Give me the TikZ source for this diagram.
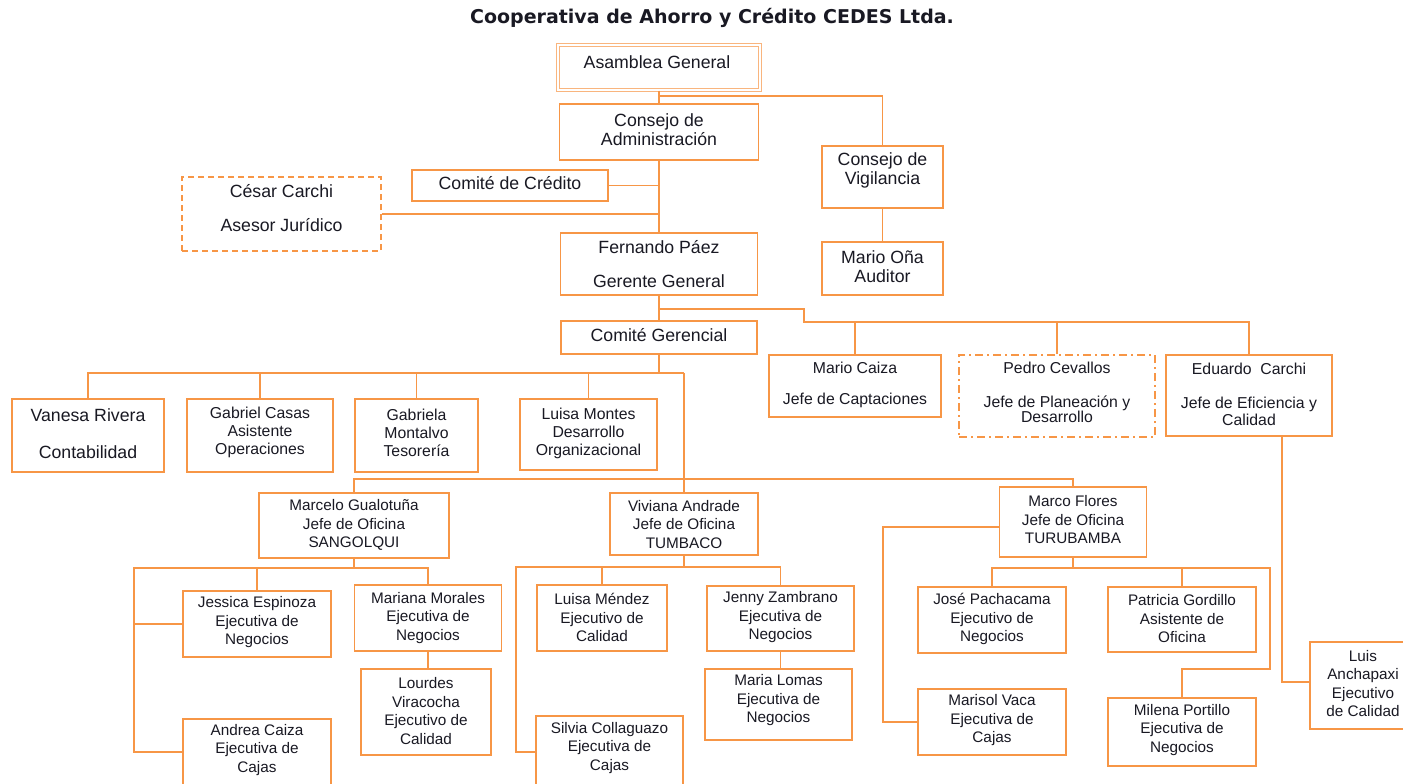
\documentclass[tikz,border=0pt]{standalone}
\usepackage{fontspec}
\setmainfont{Liberation Sans}
\newfontfamily\titlefont{DejaVu Sans}
\definecolor{org}{RGB}{247,150,70}
\definecolor{ink}{RGB}{25,25,35}
\begin{document}
\begin{tikzpicture}[x=1pt,y=-1pt,
  box/.style={draw=org, line width=1.7pt, fill=white, inner sep=0pt, rectangle},
  conn/.style={draw=org, line width=1.7pt},
  big/.style={text=ink, align=center, inner sep=0pt, font=\fontsize{17.7}{19}\selectfont},
  mid/.style={text=ink, align=center, inner sep=0pt, font=\fontsize{15.8}{18}\selectfont},
  sml/.style={text=ink, align=center, inner sep=0pt, font=\fontsize{15.3}{18.5}\selectfont}]
\useasboundingbox (0,0) rectangle (1403,784);
\clip (0,0) rectangle (1403,784);

% title
\node[text=ink, font=\titlefont\bfseries\fontsize{19}{21}\selectfont] (title) at (712,18) {Cooperativa de Ahorro y Crédito CEDES Ltda.};

% boxes
\node[box, draw=org!70, double=white, double distance=1.2pt, line width=1.3pt, minimum width=202, minimum height=45] (asam) at (659,67.5) {};
\node[box, minimum width=199, minimum height=56] (cadm) at (659,132) {};
\node[box, minimum width=121, minimum height=62] (cvig) at (882.5,177) {};
\node[box, minimum width=121, minimum height=53] (audit) at (882.5,268.5) {};
\node[box, minimum width=196, minimum height=31] (ccred) at (510,185.5) {};
\node[box, dashed, dash pattern=on 6pt off 4pt, minimum width=199, minimum height=74] (cesar) at (281.5,214) {};
\node[box, minimum width=197, minimum height=62] (gerente) at (659,264) {};
\node[box, minimum width=196, minimum height=33] (cger) at (659,337.5) {};
\node[box, minimum width=172, minimum height=62] (mcaiza) at (855,386) {};
\node[box, dash pattern=on 8pt off 4pt on 2pt off 4pt, minimum width=196, minimum height=82] (pedro) at (1057,396) {};
\node[box, minimum width=166, minimum height=81] (eduardo) at (1249,395.5) {};
\node[box, minimum width=152, minimum height=73] (vanesa) at (88,435.5) {};
\node[box, minimum width=146, minimum height=73] (gcasas) at (260,435.5) {};
\node[box, minimum width=123, minimum height=73] (gmont) at (416.5,435.5) {};
\node[box, minimum width=137, minimum height=71] (lmontes) at (588.5,434.5) {};
\node[box, minimum width=190, minimum height=65] (marcelo) at (354,525.5) {};
\node[box, minimum width=148, minimum height=62] (viviana) at (684,524) {};
\node[box, minimum width=147, minimum height=70] (marco) at (1073,522) {};
\node[box, minimum width=148, minimum height=66] (jessica) at (257,624) {};
\node[box, minimum width=147, minimum height=66] (mariana) at (428,618) {};
\node[box, minimum width=130, minimum height=86] (lourdes) at (426,712) {};
\node[box, minimum width=148, minimum height=81] (andrea) at (257,759.5) {};
\node[box, minimum width=130, minimum height=66] (lmendez) at (602,618) {};
\node[box, minimum width=147, minimum height=65] (jenny) at (780.5,618.5) {};
\node[box, minimum width=147, minimum height=71] (mlomas) at (778.5,704.5) {};
\node[box, minimum width=147, minimum height=84] (silvia) at (609.5,758) {};
\node[box, minimum width=148, minimum height=66] (jose) at (992,620) {};
\node[box, minimum width=148, minimum height=65] (patricia) at (1182,619.5) {};
\node[box, minimum width=148, minimum height=66] (marisol) at (992,722) {};
\node[box, minimum width=148, minimum height=68] (milena) at (1182,732) {};
\node[box, minimum width=105, minimum height=87] (luis) at (1362.5,685.5) {};

% junction coordinates
\coordinate (j1) at (659,96);
\coordinate (j2) at (659,309);
\coordinate (j3) at (804,322);
\coordinate (j4) at (659,373);
\coordinate (t1) at (684,373);
\coordinate (b1) at (684,479);
\coordinate (m1) at (354,568);
\coordinate (m2) at (134,568);
\coordinate (m3) at (134,752);
\coordinate (v1) at (684,567);
\coordinate (v2) at (516,567);
\coordinate (v3) at (516,752);
\coordinate (f1) at (883,527);
\coordinate (f2) at (1073,568);
\coordinate (f3) at (1270,568);
\coordinate (f4) at (1270,669);
\coordinate (e1) at (1282,682);

% connectors
\draw[conn] (asam.south) -- (cadm.north);
\draw[conn] (j1) -| (cvig.north);
\draw[conn] (cvig.south) -- (audit.north);
\draw[conn] (cadm.south) -- (gerente.north);
\draw[conn] (ccred.east) -- (ccred.east -| cadm.south);
\draw[conn] (cesar.east) -- (cesar.east -| cadm.south);
\draw[conn] (gerente.south) -- (cger.north);
\draw[conn] (j2) -| (j3) -| (eduardo.north);
\draw[conn] (mcaiza.north) -- (mcaiza.north |- j3);
\draw[conn] (pedro.north) -- (pedro.north |- j3);
\draw[conn] (cger.south) -- (j4);
\draw[conn] (vanesa.north) |- (t1);
\draw[conn] (gcasas.north) -- (gcasas.north |- t1);
\draw[conn] (gmont.north) -- (gmont.north |- t1);
\draw[conn] (lmontes.north) -- (lmontes.north |- t1);
\draw[conn] (t1) -- (viviana.north);
\draw[conn] (marcelo.north) |- (b1) -| (marco.north);
% Marcelo branch
\draw[conn] (marcelo.south) -- (m1);
\draw[conn] (mariana.north) |- (m2) -- (m3) -- (m3 -| andrea.west);
\draw[conn] (jessica.north) -- (jessica.north |- m2);
\draw[conn] (m2 |- jessica.west) -- (jessica.west);
\draw[conn] (mariana.south) -- (mariana.south |- lourdes.north);
% Viviana branch
\draw[conn] (viviana.south) -- (v1);
\draw[conn] (jenny.north) |- (v2) -- (v3) -- (v3 -| silvia.west);
\draw[conn] (lmendez.north) -- (lmendez.north |- v2);
\draw[conn] (jenny.south) -- (jenny.south |- mlomas.north);
% Marco branch
\draw[conn] (f1 -| marco.west) -- (f1) |- (marisol.west);
\draw[conn] (marco.south) -- (f2);
\draw[conn] (jose.north) |- (f3) -- (f4) -| (milena.north);
\draw[conn] (patricia.north) -- (patricia.north |- f3);
% Eduardo branch
\draw[conn] (e1 |- eduardo.south) -- (e1) -- (e1 -| luis.west);

% texts
\node[big] (tasam) at (657,62) {Asamblea General};
\node[big] (tcadm) at (659,129.5) {Consejo de\\Administración};
\node[big] (tcvig) at (882.5,170) {Consejo de\\Vigilancia};
\node[big] (taudit) at (882.5,266.5) {Mario Oña\\Auditor};
\node[big] (tccred) at (510,183.5) {Comité de Crédito};
\node[big] (tcesar) at (281.5,208) {César Carchi\\[15pt]Asesor Jurídico};
\node[big] (tgerente) at (659,264) {Fernando Páez\\[15pt]Gerente General};
\node[big] (tcger) at (659,335) {Comité Gerencial};
\node[mid] (tmcaiza) at (855,384.5) {Mario Caiza\\[13pt]Jefe de Captaciones};
\node[mid] (tpedro) at (1057,392.5) {Pedro Cevallos\\[16pt]Jefe de Planeación y\\[-3pt]Desarrollo};
\node[mid] (teduardo) at (1249,394.5) {Eduardo~ Carchi\\[16pt]Jefe de Eficiencia y\\[-1pt]Calidad};
\node[big] (tvanesa) at (88,433.5) {Vanesa Rivera\\[18pt]Contabilidad};
\node[mid] (tgcasas) at (260,432) {Gabriel Casas\\Asistente\\Operaciones};
\node[mid] (tgmont) at (416.5,433) {Gabriela\\Montalvo\\Tesorería};
\node[mid] (tlmontes) at (588.5,433) {Luisa Montes\\Desarrollo\\Organizacional};
\node[sml] (tmarcelo) at (354,525) {Marcelo Gualotuña\\Jefe de Oficina\\SANGOLQUI};
\node[sml] (tviviana) at (684,524.5) {Viviana Andrade\\Jefe de Oficina\\TUMBACO};
\node[sml] (tmarco) at (1073,520) {Marco Flores\\Jefe de Oficina\\TURUBAMBA};
\node[sml] (tjessica) at (257,622.5) {Jessica Espinoza\\Ejecutiva de\\Negocios};
\node[sml] (tmariana) at (428,618) {Mariana Morales\\Ejecutiva de\\Negocios};
\node[sml] (tlourdes) at (426,711) {Lourdes\\Viracocha\\Ejecutivo de\\Calidad};
\node[sml] (tandrea) at (257,750) {Andrea Caiza\\Ejecutiva de\\Cajas};
\node[sml] (tlmendez) at (602,617.5) {Luisa Méndez\\Ejecutivo de\\Calidad};
\node[sml] (tjenny) at (780.5,617.5) {Jenny Zambrano\\Ejecutiva de\\Negocios};
\node[sml] (tmlomas) at (778.5,700.5) {Maria Lomas\\Ejecutiva de\\Negocios};
\node[sml] (tsilvia) at (609.5,748) {Silvia Collaguazo\\Ejecutiva de\\Cajas};
\node[sml] (tjose) at (992,619) {José Pachacama\\Ejecutivo de\\Negocios};
\node[sml] (tpatricia) at (1182,619) {Patricia Gordillo\\Asistente de\\Oficina};
\node[sml] (tmarisol) at (992,720.5) {Marisol Vaca\\Ejecutiva de\\Cajas};
\node[sml] (tmilena) at (1182,730) {Milena Portillo\\Ejecutiva de\\Negocios};
\node[sml] (tluis) at (1363,683.5) {Luis\\Anchapaxi\\Ejecutivo\\de Calidad};
\end{tikzpicture}
\end{document}
